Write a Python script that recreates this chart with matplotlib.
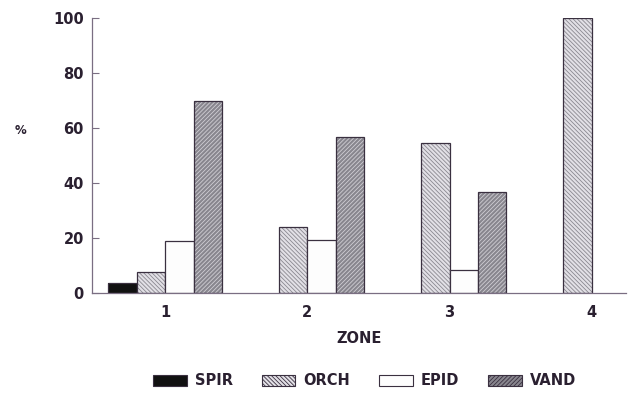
import numpy as np
import matplotlib.pyplot as plt
import matplotlib as mpl

mpl.rcParams['hatch.linewidth'] = 0.6

zones = ["1", "2", "3", "4"]
spir = [3.6, 0, 0, 0]
orch = [7.6, 24, 54.7, 100]
epid = [18.9, 19.2, 8.3, 0]
vand = [70, 56.8, 36.8, 0]

series = ["SPIR", "ORCH", "EPID", "VAND"]
values = [spir, orch, epid, vand]
faces = ["#111111", "#e2e0e6", "#fdfdfd", "#88868e"]
hatches = [None, "\\\\\\\\\\\\\\\\", None, "////////"]
hatch_cols = ["#111111", "#8a8890", "#555555", "#d0ced4"]

ink = "#2a2030"
axcol = "#7a6e82"
font = "DejaVu Sans"

fig = plt.figure(figsize=(6.31, 3.94), dpi=100)
ax = fig.add_axes([0.146, 0.257, 0.846, 0.697])

x = np.arange(1, len(zones) + 1)
w = 0.2
for i, (name, vals) in enumerate(zip(series, values)):
    vals = np.array(vals, dtype=float)
    pos = x + (i - 1.5) * w
    ax.bar(pos, vals, width=w, color=faces[i], edgecolor=hatch_cols[i],
           hatch=hatches[i], linewidth=0, label=name)
    # outline drawn separately so hatch colour can differ from the edge
    keep = vals > 0
    ax.bar(pos[keep], vals[keep], width=w, fill=False,
           edgecolor="#3a3040", linewidth=0.9)

ax.set_xlim(0.487, 4.24)
ax.set_ylim(0, 100)
ax.set_yticks([0, 20, 40, 60, 80, 100])
ax.set_xticks(x)
ax.set_xticklabels(zones)

for s in ["top", "right"]:
    ax.spines[s].set_visible(False)
for s in ["left", "bottom"]:
    ax.spines[s].set_color(axcol)
    ax.spines[s].set_linewidth(0.9)

ax.tick_params(axis="y", direction="in", length=5, color=axcol, pad=6,
               labelsize=10.5, labelcolor=ink)
ax.tick_params(axis="x", length=0, pad=9, labelsize=10.5, labelcolor=ink)
for lab in ax.get_xticklabels() + ax.get_yticklabels():
    lab.set_fontweight("bold")
    lab.set_family(font)

ax.set_xlabel("ZONE", fontsize=10.5, fontweight="bold", color=ink,
              family=font, labelpad=8)
fig.text(0.032, 0.67, "%", fontsize=8.5, fontweight="bold", color=ink,
         family=font, ha="center", va="center")

handles, labels = ax.get_legend_handles_labels()
leg = fig.legend(handles, labels, loc="center", ncol=4,
                 bbox_to_anchor=(0.578, 0.033), frameon=False,
                 handlelength=2.3, handleheight=0.85, handletextpad=0.55,
                 columnspacing=2.0,
                 prop={"family": font, "weight": "bold", "size": 10.5})
for t in leg.get_texts():
    t.set_color(ink)
for p in leg.get_patches():
    p.set_edgecolor("#3a3040")
    p.set_linewidth(0.8)

fig.savefig("out.png", dpi=100)
